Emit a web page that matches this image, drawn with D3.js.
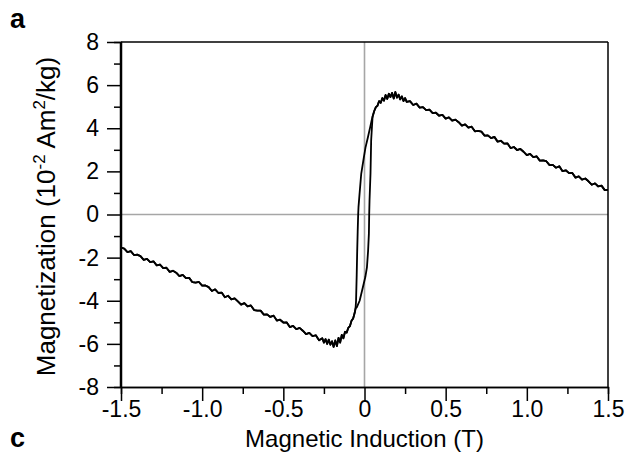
<!DOCTYPE html>
<html>
<head>
<meta charset="utf-8">
<script src="https://cdn.jsdelivr.net/npm/d3@7/dist/d3.min.js"></script>
<style>
  html, body { margin: 0; padding: 0; background: #fff; }
  svg { display: block; }
  text { font-family: "Liberation Sans", Arial, sans-serif; }
</style>
</head>
<body>
<svg id="chart" width="630" height="466"></svg>
<script>
// ---- Data ----
const xTicks = [-1.5, -1.0, -0.5, 0, 0.5, 1.0, 1.5];
const xTickLabels = ["-1.5", "-1.0", "-0.5", "0", "0.5", "1.0", "1.5"];
const xMinorTicks = [-1.25, -0.75, -0.25, 0.25, 0.75, 1.25];
const yTicks = [-8, -6, -4, -2, 0, 2, 4, 6, 8];
const yTickLabels = ["-8", "-6", "-4", "-2", "0", "2", "4", "6", "8"];
const yMinorTicks = [-7, -5, -3, -1, 1, 3, 5, 7];

// high-field branch (B from +1.5 down to the loop), [B (T), M (1e-2 Am2/kg)]
const rightTail = [[1.50,1.14],[1.48,1.13],[1.46,1.34],[1.44,1.30],[1.42,1.44],[1.40,1.38],[1.38,1.54],[1.36,1.67],[1.34,1.62],[1.32,1.77],[1.30,1.71],[1.28,1.93],[1.26,1.92],[1.24,2.05],[1.22,2.01],[1.20,2.24],[1.18,2.17],[1.16,2.30],[1.14,2.29],[1.12,2.47],[1.10,2.51],[1.08,2.50],[1.06,2.70],[1.04,2.66],[1.02,2.81],[1.00,2.75],[0.98,2.91],[0.96,3.04],[0.94,2.99],[0.92,3.13],[0.90,3.08],[0.88,3.30],[0.86,3.29],[0.84,3.42],[0.82,3.38],[0.80,3.60],[0.78,3.54],[0.76,3.67],[0.74,3.66],[0.72,3.84],[0.70,3.88],[0.68,3.86],[0.66,4.07],[0.64,4.03],[0.62,4.18],[0.60,4.12],[0.58,4.28],[0.56,4.40],[0.54,4.35],[0.52,4.50],[0.50,4.45],[0.48,4.62],[0.46,4.58],[0.44,4.72],[0.42,4.70],[0.40,4.86],[0.38,4.84],[0.36,4.98],[0.34,4.96],[0.32,5.14],[0.30,5.08],[0.28,5.26],[0.26,5.22],[0.25,5.40],[0.24,5.26],[0.23,5.48],[0.22,5.34],[0.21,5.56],[0.20,5.42],[0.19,5.68],[0.18,5.38],[0.17,5.64],[0.16,5.45],[0.15,5.60],[0.14,5.36],[0.13,5.54],[0.12,5.28],[0.11,5.40],[0.10,5.18],[0.09,5.26],[0.08,5.04],[0.07,4.98],[0.06,4.80],[0.05,4.55]];

// descending-field steep part of the loop
const descCore = [[0.045,4.40],[0.035,4.05],[0.020,3.55],[0.006,3.10],[-0.005,2.60],[-0.020,1.90],[-0.030,1.00],[-0.037,0.34],[-0.039,0.00],[-0.042,-0.80],[-0.045,-1.70],[-0.048,-2.80],[-0.052,-4.00],[-0.055,-4.35]];

// ascending-field steep part of the loop
const ascCore = [[-0.055,-4.35],[-0.047,-4.30],[-0.030,-4.00],[-0.010,-3.37],[0.005,-2.90],[0.015,-2.45],[0.022,-1.70],[0.027,-0.90],[0.029,0.03],[0.031,0.65],[0.037,1.90],[0.041,3.43],[0.047,4.20],[0.050,4.55]];

// negative-field branch (B from the loop down to -1.5)
const leftTail = [[-0.06,-4.55],[-0.07,-4.82],[-0.08,-4.93],[-0.09,-5.18],[-0.10,-5.26],[-0.11,-5.48],[-0.12,-5.44],[-0.13,-5.74],[-0.14,-5.58],[-0.15,-5.94],[-0.16,-5.72],[-0.17,-6.10],[-0.18,-5.84],[-0.19,-6.14],[-0.20,-5.88],[-0.21,-6.04],[-0.22,-5.80],[-0.23,-6.00],[-0.24,-5.78],[-0.25,-5.94],[-0.26,-5.74],[-0.28,-5.83],[-0.30,-5.60],[-0.32,-5.64],[-0.34,-5.49],[-0.36,-5.55],[-0.38,-5.39],[-0.40,-5.26],[-0.42,-5.32],[-0.44,-5.17],[-0.46,-5.22],[-0.48,-5.00],[-0.50,-5.01],[-0.52,-4.88],[-0.54,-4.92],[-0.56,-4.69],[-0.58,-4.75],[-0.60,-4.63],[-0.62,-4.64],[-0.64,-4.46],[-0.66,-4.46],[-0.68,-4.43],[-0.70,-4.22],[-0.72,-4.26],[-0.74,-4.11],[-0.76,-4.18],[-0.78,-4.03],[-0.80,-3.89],[-0.82,-3.94],[-0.84,-3.77],[-0.86,-3.84],[-0.88,-3.62],[-0.90,-3.64],[-0.92,-3.47],[-0.94,-3.55],[-0.96,-3.37],[-0.98,-3.29],[-1.00,-3.30],[-1.02,-3.13],[-1.04,-3.16],[-1.06,-3.14],[-1.08,-2.94],[-1.10,-2.95],[-1.12,-2.80],[-1.14,-2.86],[-1.16,-2.70],[-1.18,-2.61],[-1.20,-2.66],[-1.22,-2.47],[-1.24,-2.49],[-1.26,-2.32],[-1.28,-2.36],[-1.30,-2.17],[-1.32,-2.21],[-1.34,-2.06],[-1.36,-2.10],[-1.38,-1.93],[-1.40,-1.86],[-1.42,-1.88],[-1.44,-1.70],[-1.46,-1.74],[-1.48,-1.58],[-1.50,-1.53]];

// ---- Layout ----
const svg = d3.select("#chart");
const L = 121, R = 608, T = 42, B = 387;
const x = d3.scaleLinear().domain([-1.5, 1.5]).range([L, R]);
const y = d3.scaleLinear().domain([-8, 8]).range([B, T]);

// zero reference lines
svg.append("line").attr("x1", x(0)).attr("x2", x(0)).attr("y1", T).attr("y2", B)
  .attr("stroke", "#a6a6a6").attr("stroke-width", 1.6);
svg.append("line").attr("x1", L).attr("x2", R).attr("y1", y(0)).attr("y2", y(0))
  .attr("stroke", "#a6a6a6").attr("stroke-width", 1.6);

// curve
const line = d3.line().x(d => x(d[0])).y(d => y(d[1]));
const descending = rightTail.concat(descCore, leftTail);
const ascending = leftTail.slice().reverse().concat(ascCore, rightTail.slice().reverse());
[descending, ascending].forEach(p => {
  svg.append("path").datum(p).attr("d", line)
    .attr("fill", "none").attr("stroke", "#000").attr("stroke-width", 1.8)
    .attr("stroke-linejoin", "round");
});

// box (top + right)
svg.append("line").attr("x1", L).attr("x2", R).attr("y1", T).attr("y2", T)
  .attr("stroke", "#000").attr("stroke-width", 1.5);
svg.append("line").attr("x1", R).attr("x2", R).attr("y1", T).attr("y2", B)
  .attr("stroke", "#000").attr("stroke-width", 1.5);

// axes
function styleAxis(g) {
  g.select(".domain").attr("stroke", "#000").attr("stroke-width", 1.5);
  g.selectAll(".tick line").attr("stroke", "#000").attr("stroke-width", 1.5);
  g.selectAll(".tick text").attr("fill", "#000")
    .style("font-family", "'Liberation Sans', Arial, sans-serif").style("font-size", "23px");
}
const gxMinor = svg.append("g").attr("transform", `translate(0,${B})`)
  .call(d3.axisBottom(x).tickValues(xMinorTicks).tickSize(7).tickFormat(""));
styleAxis(gxMinor);
const gx = svg.append("g").attr("transform", `translate(0,${B})`)
  .call(d3.axisBottom(x).tickValues(xTicks).tickSize(14).tickPadding(0)
    .tickFormat((d, i) => xTickLabels[i]));
styleAxis(gx);

const gyMinor = svg.append("g").attr("transform", `translate(${L},0)`)
  .call(d3.axisLeft(y).tickValues(yMinorTicks).tickSize(7).tickFormat(""));
styleAxis(gyMinor);
const gy = svg.append("g").attr("transform", `translate(${L},0)`)
  .call(d3.axisLeft(y).tickValues(yTicks).tickSize(14).tickPadding(8)
    .tickFormat((d, i) => yTickLabels[i]));
styleAxis(gy);
gx.selectAll(".domain").attr("d", `M${L},0.5H${R}`);
gy.selectAll(".domain").attr("d", `M-0.5,${B}V${T}`);

// titles
svg.append("text").attr("x", (L + R) / 2).attr("y", 447)
  .attr("text-anchor", "middle").style("font-size", "24px").attr("fill", "#000")
  .text("Magnetic Induction (T)");

const yt = svg.append("text")
  .attr("transform", `translate(55,${(T + B) / 2 + 2}) rotate(-90)`)
  .attr("text-anchor", "middle").style("font-size", "26px").attr("fill", "#000");
yt.append("tspan").text("Magnetization (10");
yt.append("tspan").attr("dy", -10).style("font-size", "17px").text("-2");
yt.append("tspan").attr("dy", 10).text(" Am");
yt.append("tspan").attr("dy", -10).style("font-size", "17px").text("2");
yt.append("tspan").attr("dy", 10).text("/kg)");

// panel letters
svg.append("text").attr("x", 10).attr("y", 28).style("font-size", "27px")
  .style("font-weight", "bold").attr("fill", "#000").text("a");
svg.append("text").attr("x", 10).attr("y", 447).style("font-size", "27px")
  .style("font-weight", "bold").attr("fill", "#000").text("c");
</script>
</body>
</html>
